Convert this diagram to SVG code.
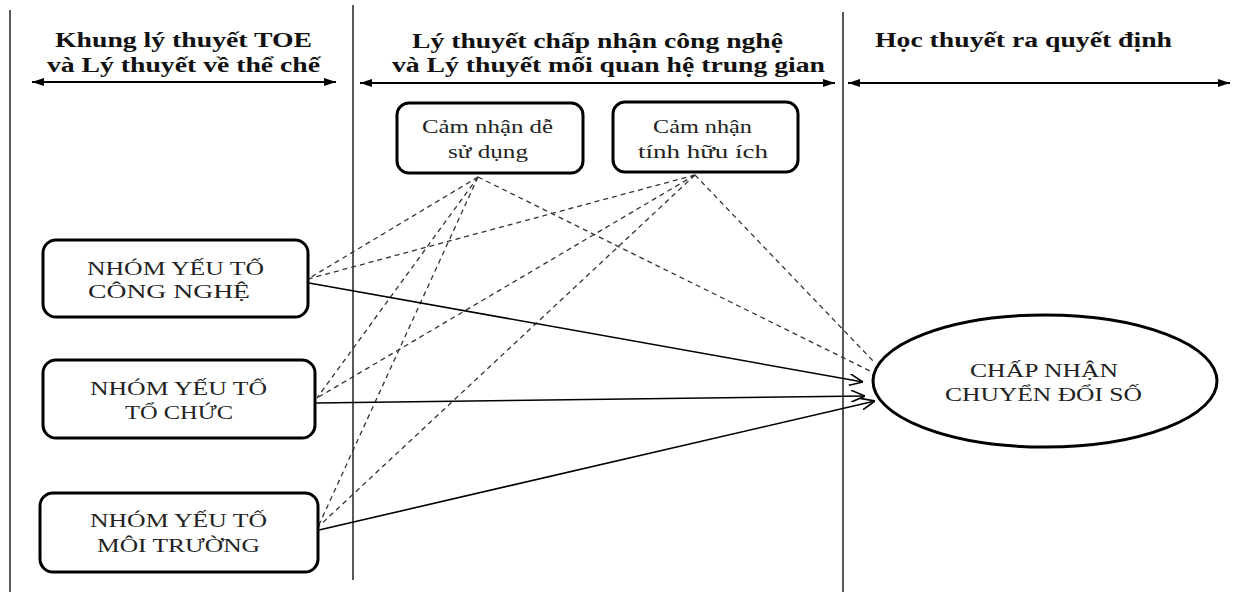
<svg xmlns="http://www.w3.org/2000/svg" width="1236" height="592" viewBox="0 0 1236 592">
<defs>
<marker id="tri" viewBox="0 0 12 8" refX="12" refY="4" markerWidth="12" markerHeight="8" markerUnits="userSpaceOnUse" orient="auto-start-reverse"><path d="M0,0 L12,4 L0,8 Z" fill="#000"/></marker>
<marker id="open" viewBox="0 0 14 12" refX="14" refY="6" markerWidth="14" markerHeight="12" markerUnits="userSpaceOnUse" orient="auto"><path d="M0,0 L14,6 L0,12" fill="none" stroke="#000" stroke-width="1.6"/></marker>
<style>
.hd{font-family:"Liberation Serif",serif;font-weight:bold;font-size:20px;fill:#111;}
.tx{font-family:"Liberation Serif",serif;font-size:19px;fill:#222;}
.box{fill:#fff;stroke:#000;stroke-width:3;}
.vl{stroke:#222;stroke-width:1.5;fill:none;}
.ha{stroke:#000;stroke-width:2;fill:none;marker-start:url(#tri);marker-end:url(#tri);}
.dash{stroke:#333;stroke-width:1.3;stroke-dasharray:5 4;fill:none;}
.sol{stroke:#000;stroke-width:1.6;fill:none;marker-end:url(#open);}
</style>
</defs>
<rect width="1236" height="592" fill="#fff"/>
<g id="dividers">
<line class="vl" x1="10" y1="10" x2="10" y2="592"/>
<line class="vl" x1="353" y1="5" x2="353" y2="580"/>
<line class="vl" x1="843" y1="12" x2="843" y2="592"/>
</g>
<g id="headers">
<text class="hd" x="55" y="47" textLength="257" lengthAdjust="spacingAndGlyphs">Khung lý thuyết TOE</text>
<text class="hd" x="47" y="72" textLength="273" lengthAdjust="spacingAndGlyphs">và Lý thuyết về thể chế</text>
<line class="ha" x1="32" y1="82" x2="336" y2="82"/>
<text class="hd" x="412" y="48" textLength="371" lengthAdjust="spacingAndGlyphs">Lý thuyết chấp nhận công nghệ</text>
<text class="hd" x="392" y="72" textLength="433" lengthAdjust="spacingAndGlyphs">và Lý thuyết mối quan hệ trung gian</text>
<line class="ha" x1="360" y1="83" x2="835" y2="83"/>
<text class="hd" x="875" y="47" textLength="297" lengthAdjust="spacingAndGlyphs">Học thuyết ra quyết định</text>
<line class="ha" x1="848" y1="83" x2="1230" y2="83"/>
</g>
<g id="connectors">
<line class="dash" x1="478" y1="177" x2="308" y2="279"/>
<line class="dash" x1="478" y1="177" x2="317" y2="398"/>
<line class="dash" x1="478" y1="177" x2="318" y2="527"/>
<line class="dash" x1="478" y1="177" x2="872" y2="372"/>
<line class="dash" x1="695" y1="175" x2="308" y2="279"/>
<line class="dash" x1="695" y1="175" x2="317" y2="398"/>
<line class="dash" x1="695" y1="175" x2="318" y2="527"/>
<line class="dash" x1="695" y1="175" x2="875" y2="363"/>
<line class="sol" x1="309" y1="283" x2="863" y2="382"/>
<line class="sol" x1="316" y1="403" x2="865" y2="396"/>
<line class="sol" x1="319" y1="530" x2="875" y2="401"/>
</g>
<g id="node-de-su-dung">
<rect class="box" x="397" y="103" width="186" height="70" rx="12"/>
<text class="tx" x="422" y="133" textLength="131" lengthAdjust="spacingAndGlyphs">Cảm nhận dễ</text>
<text class="tx" x="448" y="158" textLength="80" lengthAdjust="spacingAndGlyphs">sử dụng</text>
</g>
<g id="node-huu-ich">
<rect class="box" x="613" y="102" width="185" height="70" rx="12"/>
<text class="tx" x="653" y="133" textLength="99" lengthAdjust="spacingAndGlyphs">Cảm nhận</text>
<text class="tx" x="638" y="158" textLength="130" lengthAdjust="spacingAndGlyphs">tính hữu ích</text>
</g>
<g id="node-cong-nghe">
<rect class="box" x="43" y="240" width="265" height="77" rx="13"/>
<text class="tx" x="87" y="275" textLength="177" lengthAdjust="spacingAndGlyphs">NHÓM YẾU TỐ</text>
<text class="tx" x="88" y="298" textLength="162" lengthAdjust="spacingAndGlyphs">CÔNG NGHỆ</text>
</g>
<g id="node-to-chuc">
<rect class="box" x="43" y="360" width="272" height="78" rx="13"/>
<text class="tx" x="90" y="395" textLength="177" lengthAdjust="spacingAndGlyphs">NHÓM YẾU TỐ</text>
<text class="tx" x="125" y="419" textLength="108" lengthAdjust="spacingAndGlyphs">TỔ CHỨC</text>
</g>
<g id="node-moi-truong">
<rect class="box" x="40" y="493" width="278" height="79" rx="13"/>
<text class="tx" x="90" y="527" textLength="177" lengthAdjust="spacingAndGlyphs">NHÓM YẾU TỐ</text>
<text class="tx" x="97" y="552" textLength="163" lengthAdjust="spacingAndGlyphs">MÔI TRƯỜNG</text>
</g>
<g id="node-chap-nhan">
<ellipse class="box" cx="1045" cy="381" rx="172" ry="66"/>
<text class="tx" x="970" y="377" textLength="148" lengthAdjust="spacingAndGlyphs">CHẤP NHẬN</text>
<text class="tx" x="945" y="401" textLength="197" lengthAdjust="spacingAndGlyphs">CHUYỂN ĐỔI SỐ</text>
</g>
</svg>
